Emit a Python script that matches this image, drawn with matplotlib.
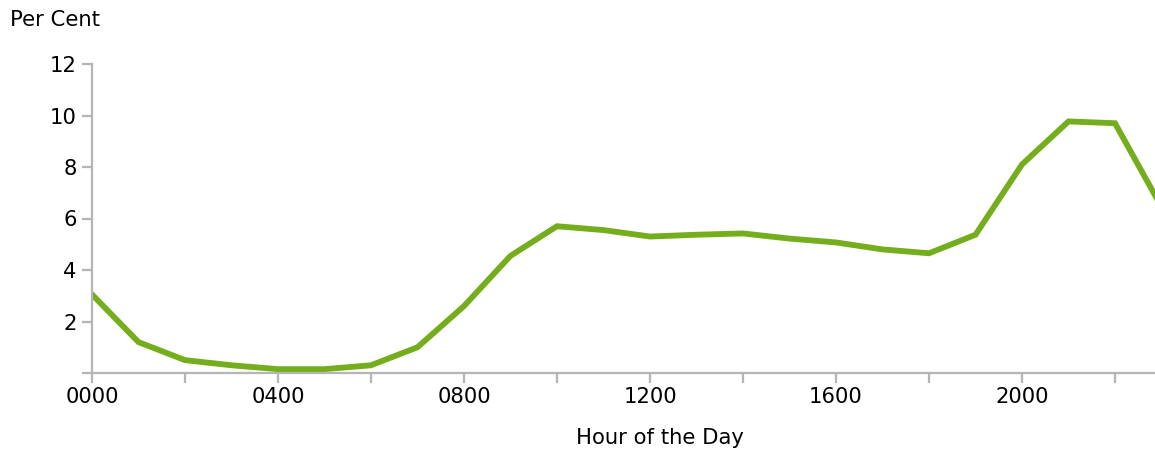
import matplotlib.pyplot as plt
import numpy as np

# share of daily total per hour (per cent)
hours = list(range(24))
per_cent = [3.05, 1.2, 0.5, 0.3, 0.15, 0.15, 0.3, 1.0, 2.6, 4.55,
            5.7, 5.55, 5.3, 5.37, 5.42, 5.22, 5.07, 4.8, 4.65, 5.37,
            8.1, 9.77, 9.7, 6.45]
ytick_vals = [2, 4, 6, 8, 10, 12]
xtick_vals = [0, 4, 8, 12, 16, 20]
xtick_labels = ['0000', '0400', '0800', '1200', '1600', '2000']

W, H = 1155, 450
fig = plt.figure(figsize=(W / 100, H / 100), dpi=100)
left, right, top, bottom = 92, 1155, 64, 373
ax = fig.add_axes([left / W, 1 - bottom / H, (right - left) / W, (bottom - top) / H])

ax.plot(hours, per_cent, color='#74ae1c', lw=4.2, solid_joinstyle='miter',
        clip_on=True)

ax.set_xlim(0, (right - left) / 46.5)
ax.set_ylim(0, 12)

grey = '#b5b5b5'
for s in ['top', 'right']:
    ax.spines[s].set_visible(False)
for s in ['left', 'bottom']:
    ax.spines[s].set_color(grey)
    ax.spines[s].set_linewidth(1.6)

fs = 15.2
ax.set_yticks([0] + ytick_vals)
ax.set_yticklabels([''] + [str(v) for v in ytick_vals])
ax.set_xticks(xtick_vals)
ax.set_xticklabels(xtick_labels)
ax.set_xticks([2, 6, 10, 14, 18, 22], minor=True)
ax.tick_params(axis='both', which='both', color=grey, width=1.6, length=7,
               labelsize=fs, labelcolor='#000000')
ax.tick_params(axis='y', pad=4)
ax.tick_params(axis='x', pad=3)

fig.text(10 / W, 1 - 20 / H, 'Per Cent', fontsize=fs, color='#000000',
         ha='left', va='center')
fig.text(660 / W, 1 - 438 / H, 'Hour of the Day', fontsize=fs,
         color='#000000', ha='center', va='center')

fig.savefig('out.png', dpi=100)
